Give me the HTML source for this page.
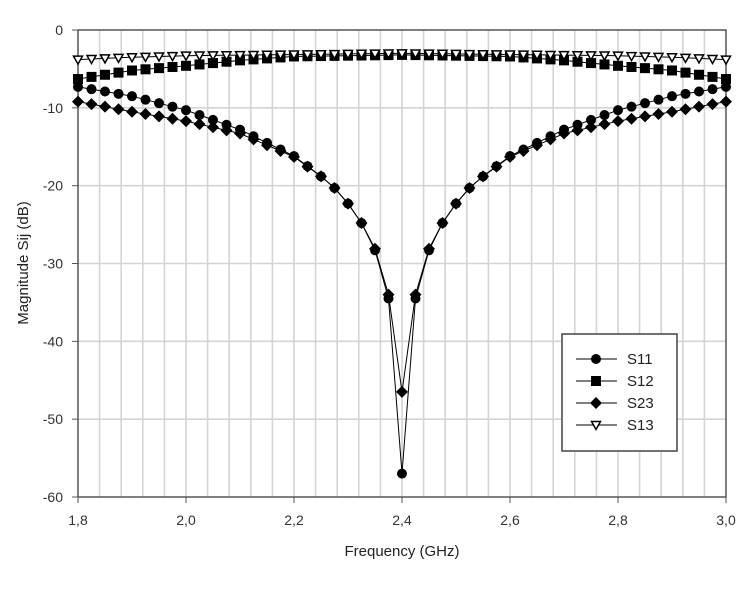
<!DOCTYPE html>
<html><head><style>body{margin:0;background:#fff}</style></head><body>
<svg id="s" width="750" height="584" xmlns="http://www.w3.org/2000/svg" font-family="Liberation Sans, sans-serif">
</svg>
<script>
const s=document.getElementById('s');let h='';
const X=f=>78+(f-1.8)/1.2*648, Y=v=>30-v/60*467;
for(let i=1;i<30;i++){const x=78+i*21.6;h+=`<line x1="${x}" y1="30" x2="${x}" y2="497" stroke="#d4d4d4" stroke-width="1.6"/>`;}
for(let v=-10;v>-60;v-=10)h+=`<line x1="78" y1="${Y(v)}" x2="726" y2="${Y(v)}" stroke="#d4d4d4" stroke-width="1.6"/>`;
h+=`<rect x="78" y="30" width="648" height="467" fill="none" stroke="#555" stroke-width="1.5"/>`;
for(let v=0;v>=-60;v-=10){h+=`<line x1="72" y1="${Y(v)}" x2="78" y2="${Y(v)}" stroke="#555"/><text x="63" y="${Y(v)+5}" font-size="14" text-anchor="end" fill="#333">${v}</text>`;}
for(let f=1.8;f<3.05;f+=0.2){const x=X(f);h+=`<line x1="${x}" y1="497" x2="${x}" y2="503" stroke="#555"/><text x="${x}" y="525" font-size="14" text-anchor="middle" fill="#333">${f.toFixed(1).replace('.',',')}</text>`;}
h+=`<text x="402" y="556" font-size="15" text-anchor="middle" fill="#222">Frequency (GHz)</text>`;
h+=`<text transform="translate(28,263) rotate(-90)" font-size="15" text-anchor="middle" fill="#222">Magnitude Sij  (dB)</text>`;
function interp(t,d){for(let i=0;i<t.length-1;i++){if(d>=t[i][0]-1e-9&&d<=t[i+1][0]+1e-9){const a=t[i],b=t[i+1];return a[1]+(b[1]-a[1])*(d-a[0])/(b[0]-a[0]);}}return t[t.length-1][1];}
const T11=[[0,-57],[0.025,-34.5],[0.05,-28.3],[0.075,-24.8],[0.1,-22.3],[0.125,-20.3],[0.15,-18.8],[0.2,-16.2],[0.3,-12.8],[0.4,-10.3],[0.5,-8.5],[0.6,-7.3]];
const T23=[[0,-46.5],[0.025,-34],[0.05,-28.1],[0.075,-24.8],[0.1,-22.3],[0.125,-20.3],[0.15,-18.8],[0.2,-16.3],[0.3,-13.3],[0.4,-11.7],[0.5,-10.5],[0.6,-9.2]];
const T12=[[0,-3.2],[0.2,-3.4],[0.3,-3.9],[0.4,-4.6],[0.5,-5.2],[0.6,-6.3]];
const T13=[[0,-3.0],[0.4,-3.3],[0.5,-3.5],[0.6,-3.8]];
function mk(t,x,y){if(t==0)return `<circle cx="${x}" cy="${y}" r="5" fill="#000"/>`;
if(t==1)return `<rect x="${x-5}" y="${y-5}" width="10" height="10" fill="#000"/>`;
if(t==2)return `<polygon points="${x},${y-6} ${x+6},${y} ${x},${y+6} ${x-6},${y}" fill="#000"/>`;
return `<polygon points="${x-4.5},${y-3.5} ${x+4.5},${y-3.5} ${x},${y+4.5}" fill="#fff" stroke="#000" stroke-width="1.5"/>`;}
[[T12,1],[T23,2],[T11,0],[T13,3]].forEach(([T,t])=>{let pts=[],m='';for(let i=0;i<=48;i++){const f=1.8+i*0.025;const x=X(f),y=Y(interp(T,Math.abs(f-2.4)));pts.push(x.toFixed(1)+','+y.toFixed(1));m+=mk(t,x,y);}
h+=`<polyline points="${pts.join(' ')}" fill="none" stroke="#000" stroke-width="1"/>`+m;});
h+=`<rect x="562" y="334" width="115" height="117" fill="#fff" stroke="#444" stroke-width="1.5"/>`;
['S11','S12','S23','S13'].forEach((n,i)=>{const y=359+i*22;const t=[0,1,2,3][i];h+=`<line x1="576" y1="${y}" x2="617" y2="${y}" stroke="#000"/>`+mk(t,596,y)+`<text x="627" y="${y+5}" font-size="15" fill="#222">${n}</text>`;});
s.innerHTML=h;
</script>
</body></html>
